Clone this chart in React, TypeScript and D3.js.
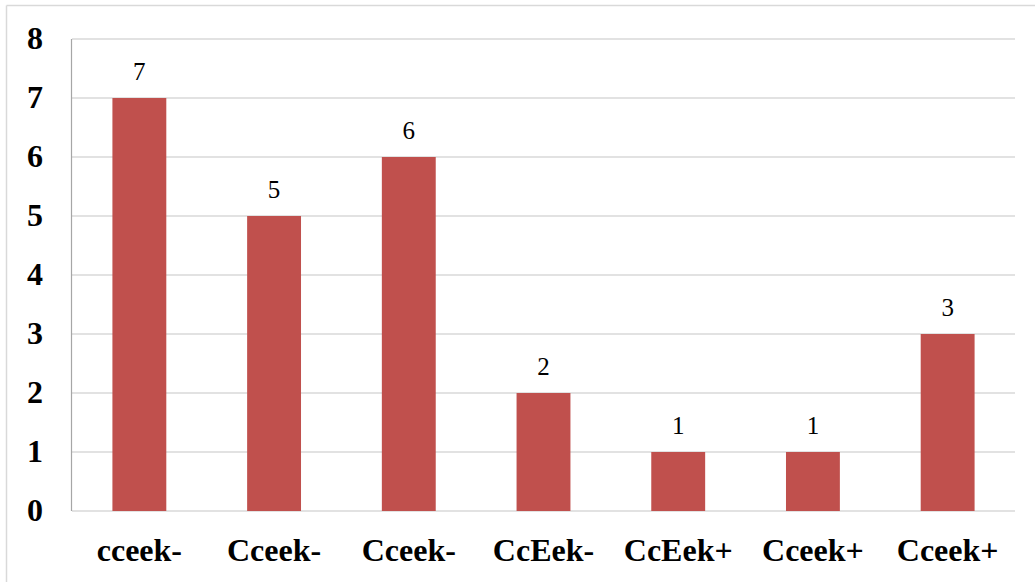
import React from "react";
import * as d3 from "d3";

const categories = ["cceek-", "Cceek-", "Cceek-", "CcEek-", "CcEek+", "Cceek+", "Cceek+"];
const values = [7, 5, 6, 2, 1, 1, 3];
const yTicks = [0, 1, 2, 3, 4, 5, 6, 7, 8];

const W = 1035;
const H = 582;
const left = 72;
const right = 1015;
const top = 39;
const bottom = 511;

export default function App() {
  const x = d3
    .scaleBand<number>()
    .domain(d3.range(categories.length))
    .range([left, right])
    .paddingInner(0.6)
    .paddingOuter(0.3);
  const y = d3.scaleLinear().domain([0, 8]).range([bottom, top]);
  const font = "'Liberation Serif', 'Times New Roman', serif";

  return (
    <svg
      width={W}
      height={H}
      style={{ position: "absolute", left: 0, top: 0, background: "#fff" }}
    >
      <rect x={0} y={0} width={W} height={H} fill="#fff" />
      {/* outer chart border */}
      <line x1={6.5} y1={5.5} x2={W} y2={5.5} stroke="#d9d9d9" strokeWidth={1.5} />
      <line x1={6.5} y1={5.5} x2={6.5} y2={H} stroke="#d9d9d9" strokeWidth={1.5} />
      {/* gridlines */}
      {yTicks.map((t) => (
        <line
          key={"g" + t}
          x1={left}
          x2={right}
          y1={y(t)}
          y2={y(t)}
          stroke="#d9d9d9"
          strokeWidth={1.5}
        />
      ))}
      {/* y axis line */}
      <line x1={left - 0.5} x2={left - 0.5} y1={top} y2={bottom} stroke="#a6a6a6" strokeWidth={1.2} />
      {/* y tick labels */}
      {yTicks.map((t) => (
        <text
          key={"t" + t}
          x={43}
          y={y(t) + 10}
          textAnchor="end"
          fontFamily={font}
          fontWeight="bold"
          fontSize={32}
          fill="#000"
        >
          {t}
        </text>
      ))}
      {/* bars */}
      {values.map((v, i) => (
        <rect
          key={"b" + i}
          x={x(i)!}
          y={y(v)}
          width={x.bandwidth()}
          height={y(0) - y(v)}
          fill="#c0504d"
        />
      ))}
      {/* data labels */}
      {values.map((v, i) => (
        <text
          key={"l" + i}
          x={x(i)! + x.bandwidth() / 2}
          y={y(v) - 18}
          textAnchor="middle"
          fontFamily={font}
          fontSize={25}
          fill="#000"
        >
          {v}
        </text>
      ))}
      {/* category labels */}
      {categories.map((c, i) => (
        <text
          key={"c" + i}
          x={x(i)! + x.bandwidth() / 2}
          y={561}
          textAnchor="middle"
          fontFamily={font}
          fontWeight="bold"
          fontSize={32}
          fill="#000"
        >
          {c}
        </text>
      ))}
    </svg>
  );
}
